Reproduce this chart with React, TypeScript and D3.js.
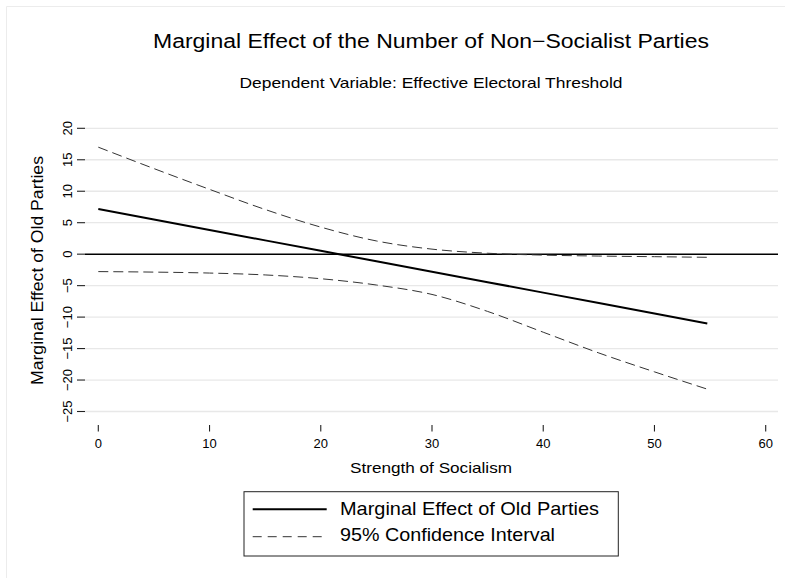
import React from 'react'
import * as d3 from 'd3'

// strength of socialism (x) and estimates
const socialism = [0, 5, 10, 15, 20, 25, 30, 35, 40, 45, 50, 54.75]
const effect = [7.17, 5.51, 3.85, 2.19, 0.53, -1.13, -2.79, -4.45, -6.11, -7.77, -9.43, -11.0]
const upperCI = [17.0, 13.6, 10.3, 7.1, 4.3, 2.1, 0.8, 0.15, -0.15, -0.3, -0.4, -0.5]
const lowerCI = [-2.77, -2.85, -3.0, -3.3, -3.9, -4.9, -6.4, -9.1, -12.4, -15.7, -18.7, -21.45]

const xTicks = [0, 10, 20, 30, 40, 50, 60]
const yTicks = [20, 15, 10, 5, 0, -5, -10, -15, -20, -25]

const title = 'Marginal Effect of the Number of Non\u2212Socialist Parties'
const subtitle = 'Dependent Variable: Effective Electoral Threshold'
const xTitle = 'Strength of Socialism'
const yTitle = 'Marginal Effect of Old Parties'
const legendItems = ['Marginal Effect of Old Parties', '95% Confidence Interval']

const W = 785
const H = 578
const font = 'Liberation Sans, Arial, Helvetica, sans-serif'

export default function App() {
  const x = d3.scaleLinear().domain([0, 60]).range([98.3, 765.7])
  const y = d3.scaleLinear().domain([-25, 20]).range([411.5, 128.3])
  const gridLeft = 85
  const gridRight = 778

  const line = d3.line<number>()
    .x((d, i) => x(socialism[i]))
    .y(d => y(d))
  const curve = d3.line<number>()
    .x((d, i) => x(socialism[i]))
    .y(d => y(d))
    .curve(d3.curveMonotoneX)

  return (
    <svg width={W} height={H} style={{position: 'absolute', left: 0, top: 0, background: '#fff'}}
      fontFamily={font}>
      {/* outer frame */}
      <line x1={6.5} y1={6.5} x2={W} y2={6.5} stroke="#ececec" strokeWidth={1} />
      <line x1={6.5} y1={6.5} x2={6.5} y2={H} stroke="#ececec" strokeWidth={1} />

      <text x={431} y={48.3} textAnchor="middle" fontSize={20} textLength={556}
        lengthAdjust="spacingAndGlyphs">{title}</text>
      <text x={431} y={87.7} textAnchor="middle" fontSize={14.5} textLength={383}
        lengthAdjust="spacingAndGlyphs">{subtitle}</text>

      {/* gridlines + y axis */}
      {yTicks.map(t => (
        <g key={t}>
          {t !== 0 && <line x1={gridLeft} x2={gridRight} y1={y(t)} y2={y(t)} stroke="#e8e8e8" strokeWidth={1.3} />}
          <line x1={77} x2={gridLeft} y1={y(t)} y2={y(t)} stroke="#222" strokeWidth={1.1} />
          <text transform={`translate(71.7,${y(t)}) rotate(-90)`} textAnchor="middle" fontSize={13}>
            {t < 0 ? '\u2212' + Math.abs(t) : String(t)}
          </text>
        </g>
      ))}
      <line x1={gridLeft} x2={gridRight} y1={y(0)} y2={y(0)} stroke="#000" strokeWidth={1.5} />

      {/* x axis */}
      {xTicks.map(t => (
        <g key={t}>
          <line x1={x(t)} x2={x(t)} y1={425} y2={431.5} stroke="#222" strokeWidth={1.1} />
          <text x={x(t)} y={447.5} textAnchor="middle" fontSize={13}>{t}</text>
        </g>
      ))}

      <text x={431} y={473} textAnchor="middle" fontSize={15} textLength={162}
        lengthAdjust="spacingAndGlyphs">{xTitle}</text>
      <text transform="translate(42.7,270.5) rotate(-90)" textAnchor="middle" fontSize={17}
        textLength={229} lengthAdjust="spacingAndGlyphs">{yTitle}</text>

      {/* series */}
      <path d={curve(upperCI) ?? ''} fill="none" stroke="#333" strokeWidth={1} strokeDasharray="10,5" />
      <path d={curve(lowerCI) ?? ''} fill="none" stroke="#333" strokeWidth={1} strokeDasharray="10,5" />
      <path d={line(effect) ?? ''} fill="none" stroke="#000" strokeWidth={2} />

      {/* legend */}
      <rect x={244} y={491.7} width={374.3} height={64.3} fill="#fff" stroke="#222" strokeWidth={1} />
      <line x1={252.7} x2={326.7} y1={509.3} y2={509.3} stroke="#000" strokeWidth={2} />
      <line x1={252.7} x2={326.7} y1={536.7} y2={536.7} stroke="#333" strokeWidth={1} strokeDasharray="9,6" />
      <text x={340} y={515} fontSize={17.7} textLength={259} lengthAdjust="spacingAndGlyphs">{legendItems[0]}</text>
      <text x={340} y={541} fontSize={17.7} textLength={215} lengthAdjust="spacingAndGlyphs">{legendItems[1]}</text>
    </svg>
  )
}
